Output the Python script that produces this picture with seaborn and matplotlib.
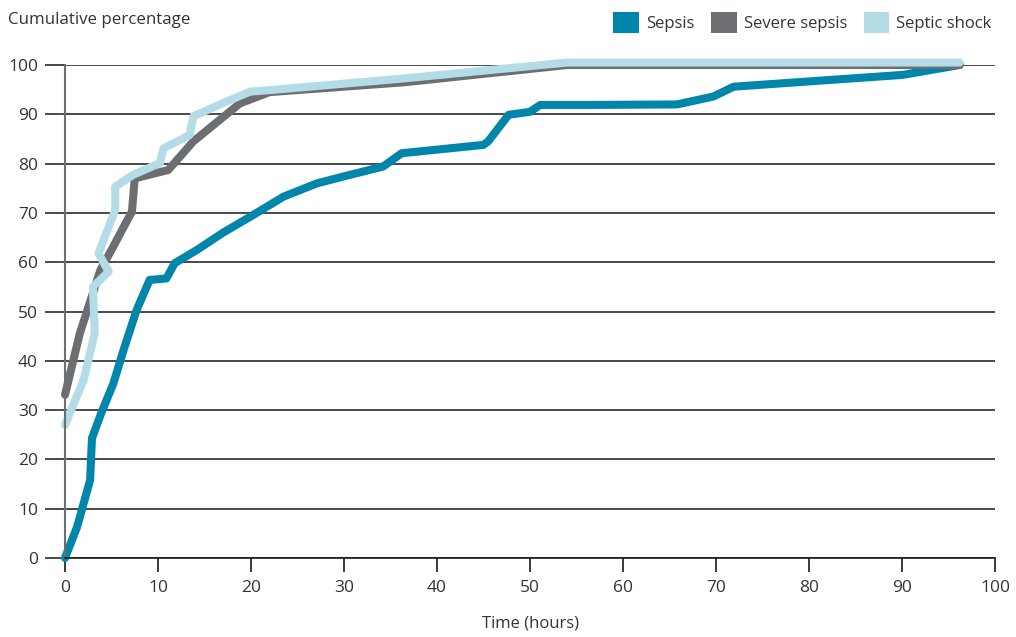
import numpy as np
import pandas as pd
import matplotlib
matplotlib.use('Agg')
import matplotlib.pyplot as plt
from matplotlib.patches import Patch
import seaborn as sns

# values (hours, cumulative %)
sepsis_x = [0, 1.3, 2.7, 2.9, 3.9, 5.2, 6.3, 7.7, 9.1, 10.9, 11.8, 14.2, 17, 19.9,
            23.5, 27.1, 30.6, 34.2, 36.2, 45, 45.5, 47.7, 50, 51.1, 56.5, 65.8,
            69.7, 71.9, 90.1, 96.2]
sepsis_y = [0, 6.3, 15.8, 24.3, 29.4, 35.4, 42.2, 50.3, 56.4, 56.7, 59.8, 62.5, 66,
            69.2, 73.3, 76, 77.7, 79.4, 82.1, 83.8, 84.5, 89.9, 90.5, 91.9, 91.9,
            92, 93.6, 95.6, 98, 100]

severe_x = [0, 1.6, 3.8, 5.0, 7.2, 7.5, 11.1, 13.8, 18.8, 22, 36.5, 45, 54, 96.2]
severe_y = [33.1, 45.6, 58.4, 62.5, 70.3, 77, 78.7, 84.5, 92.2, 94.5, 96.5, 98.2,
            100, 100]

shock_x = [0, 2.0, 3.2, 3.0, 4.7, 3.6, 5.4, 5.4, 7.3, 10.2, 10.6, 13.4, 13.8, 17.4,
           19.9, 22, 36, 54, 96.2]
shock_y = [27, 36.1, 45.6, 55, 58.1, 61.8, 70.6, 75.3, 77.7, 80.1, 83.1, 85.8, 89.6,
           92.6, 94.6, 94.9, 97.2, 100.5, 100.5]

series_names = ['Sepsis', 'Severe sepsis', 'Septic shock']
series_colors = ['#0086ab', '#6d6e72', '#b3dce6']

x_ticks = list(range(0, 101, 10))
y_ticks = list(range(0, 101, 10))

frames = []
for name, xs, ys in zip(series_names,
                        [sepsis_x, severe_x, shock_x],
                        [sepsis_y, severe_y, shock_y]):
    frames.append(pd.DataFrame({'hours': xs, 'pct': ys, 'group': name}))
df = pd.concat(frames, ignore_index=True)

sns.set_style('white')
plt.rcParams['font.family'] = ['Open Sans', 'DejaVu Sans']
text_col = '#333333'

fig = plt.figure(figsize=(10.16, 6.37), dpi=100)
ax = fig.add_axes([65 / 1016, 1 - 558 / 637, 930 / 1016, 493 / 637])

sns.lineplot(data=df, x='hours', y='pct', hue='group', hue_order=series_names,
             palette=series_colors, estimator=None, sort=False,
             linewidth=5.8, legend=False, ax=ax)
for line in ax.lines:
    line.set_solid_capstyle('round')
    line.set_solid_joinstyle('round')
    line.set_clip_on(False)

ax.set_xlim(0, 100)
ax.set_ylim(0, 100)
ax.set_xticks(x_ticks)
ax.set_yticks(y_ticks)
ax.yaxis.grid(True, color='#2b2b2b', linewidth=1.2, zorder=0)
ax.xaxis.grid(False)
ax.set_axisbelow(True)

for side in ['top', 'right']:
    ax.spines[side].set_visible(False)
ax.spines['left'].set_color('#6d6e72')
ax.spines['left'].set_linewidth(1.5)
ax.spines['bottom'].set_color('#1a1a1a')
ax.spines['bottom'].set_linewidth(1.2)

ax.tick_params(axis='y', which='major', left=True, direction='out', length=14.4,
               width=1.2, color='#2b2b2b', pad=5, labelsize=12.5,
               labelcolor=text_col)
ax.tick_params(axis='x', which='major', bottom=True, direction='out', length=10,
               width=1.2, color='#1a1a1a', pad=6, labelsize=12.5,
               labelcolor=text_col)

ax.set_xlabel('Time (hours)', fontsize=12, color=text_col, labelpad=14)
ax.set_ylabel('')
fig.text(8 / 1016, 1 - 20 / 637, 'Cumulative percentage', fontsize=12.2,
         color=text_col, ha='left', va='center')

handles = [Patch(facecolor=c, edgecolor='none', label=n)
           for n, c in zip(series_names, series_colors)]
fig.legend(handles=handles, loc='upper right', ncol=3, frameon=False,
           bbox_to_anchor=(998 / 1016, 1 - 5 / 637), fontsize=12,
           handlelength=1.55, handleheight=1.55, handletextpad=0.4,
           columnspacing=1.0, labelcolor=text_col, borderaxespad=0)

fig.savefig('out.png', dpi=100)
